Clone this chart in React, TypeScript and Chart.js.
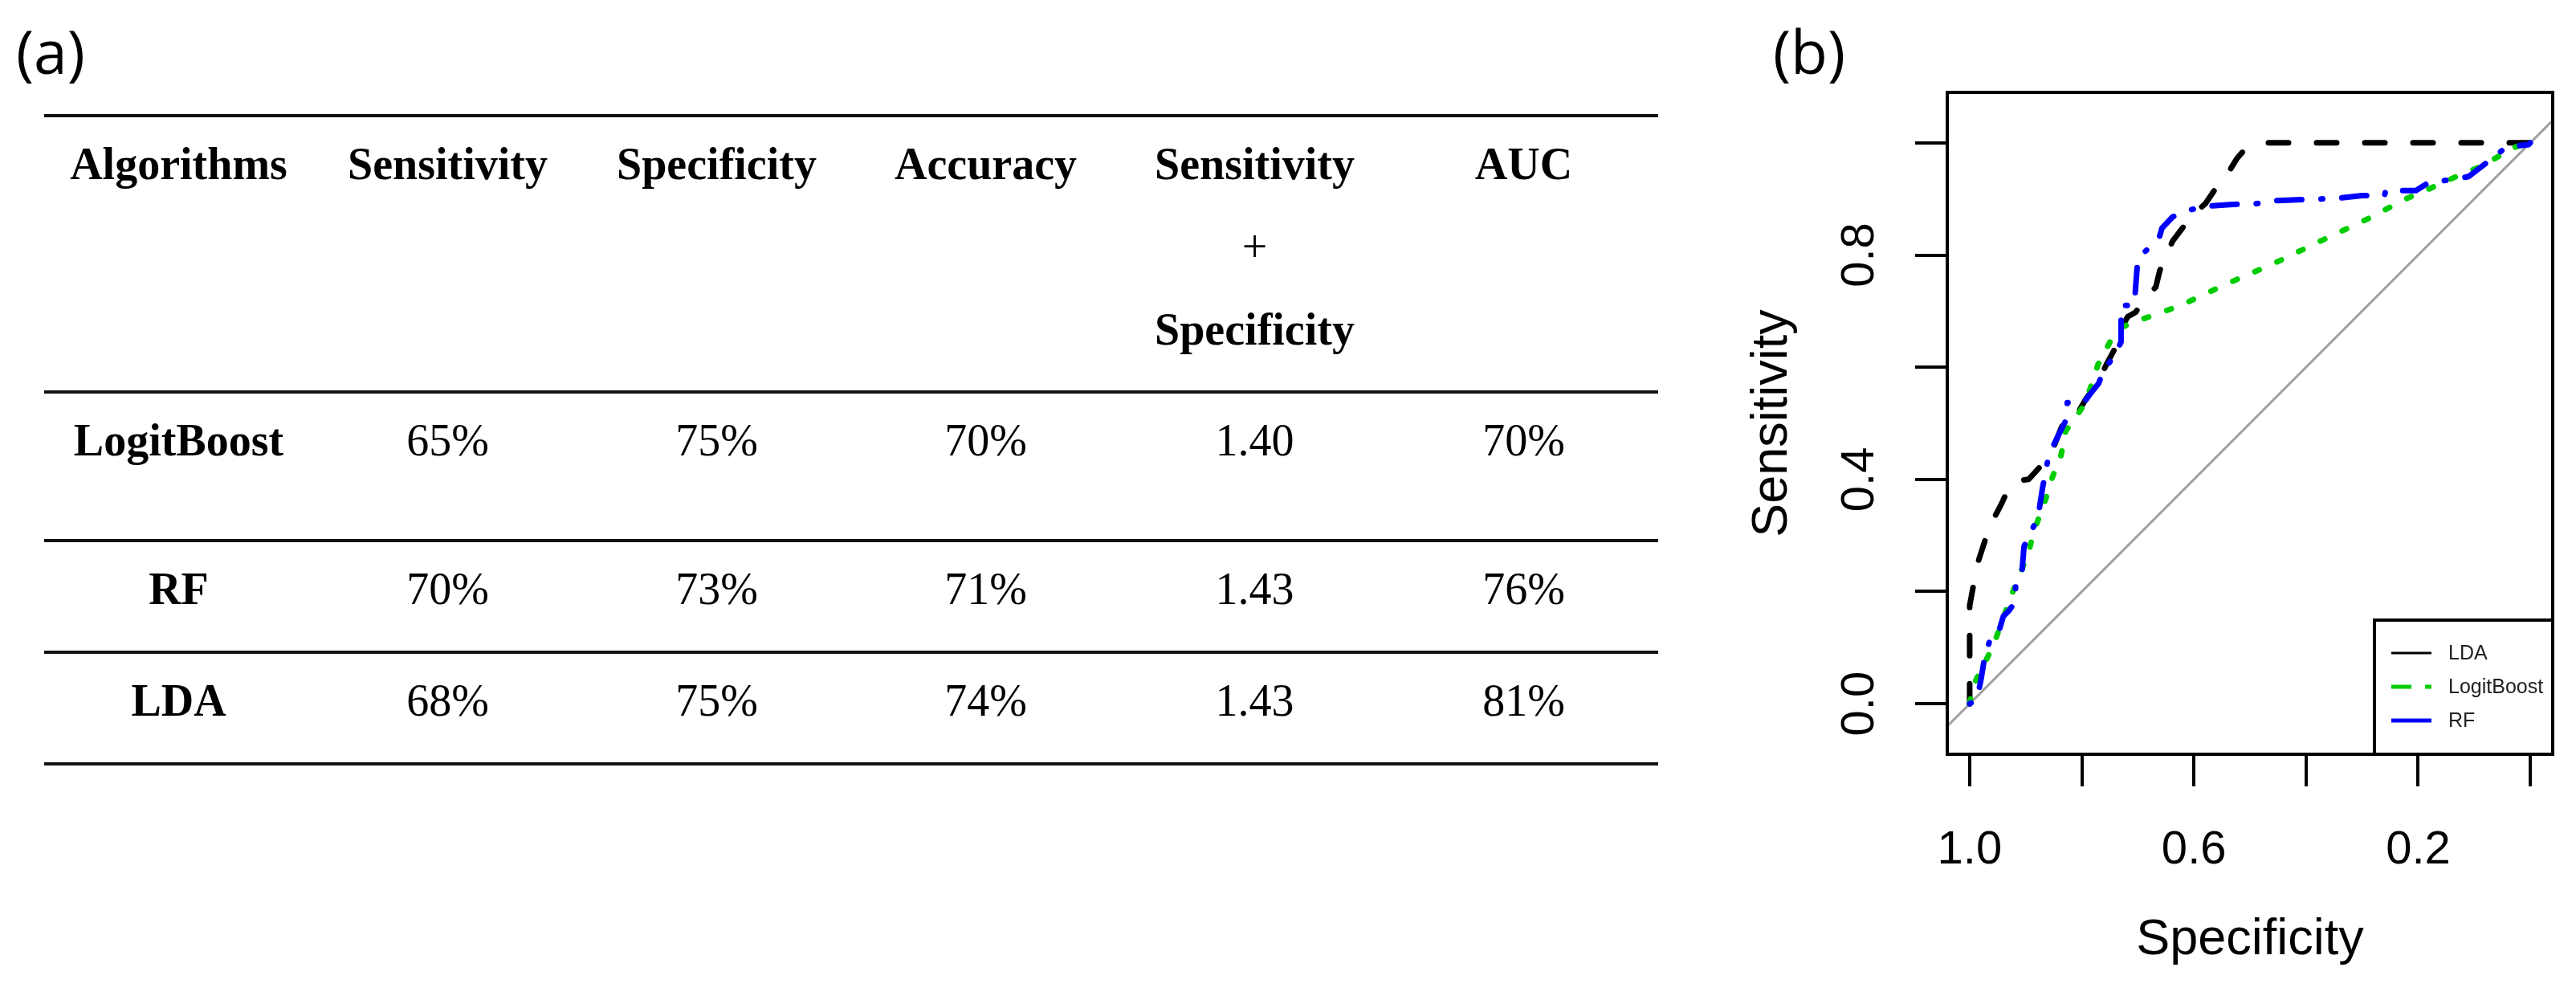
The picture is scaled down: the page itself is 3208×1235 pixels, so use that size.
import React, { useEffect, useRef } from "react";
import { Chart, registerables } from "chart.js";

Chart.register(...registerables);

// ---------- Table (a) data ----------
const tableColumns = ["Algorithms", "Sensitivity", "Specificity", "Accuracy", "Sensitivity|+|Specificity", "AUC"];
const algorithms = ["LogitBoost", "RF", "LDA"];
const sensitivityValues = ["65%", "70%", "68%"];
const specificityValues = ["75%", "73%", "75%"];
const accuracyValues = ["70%", "71%", "74%"];
const sumValues = ["1.40", "1.43", "1.43"];
const aucValues = ["70%", "76%", "81%"];

// ---------- ROC chart (b) data ----------
const xTickValues = [1.0, 0.8, 0.6, 0.4, 0.2, 0.0];
const xTickLabels = ["1.0", "", "0.6", "", "0.2", ""];
const yTickValues = [0.0, 0.2, 0.4, 0.6, 0.8, 1.0];
const yTickLabels = ["0.0", "", "0.4", "", "0.8", ""];

const seriesNames = ["LDA", "LogitBoost", "RF"];

const ldaSpecificity = [1.0, 1.0, 0.993, 0.984, 0.973, 0.958, 0.943, 0.928, 0.91, 0.895, 0.873, 0.852, 0.837, 0.822, 0.805, 0.793, 0.77, 0.756, 0.741, 0.734, 0.718, 0.704, 0.69, 0.668, 0.661, 0.638, 0.616, 0.602, 0.58, 0.557, 0.543, 0.524, 0.514, 0.499, 0.477, 0.0];
const ldaSensitivity = [0.0, 0.175, 0.213, 0.256, 0.29, 0.328, 0.357, 0.39, 0.398, 0.4, 0.424, 0.453, 0.491, 0.522, 0.522, 0.543, 0.576, 0.605, 0.633, 0.662, 0.69, 0.698, 0.719, 0.743, 0.772, 0.825, 0.854, 0.872, 0.891, 0.925, 0.94, 0.971, 0.983, 0.99, 1.0, 1.0];

const logitSpecificity = [1.0, 0.995, 0.958, 0.925, 0.91, 0.895, 0.885, 0.867, 0.852, 0.837, 0.829, 0.811, 0.796, 0.786, 0.771, 0.756, 0.741, 0.727, 0.705, 0.624, 0.543, 0.455, 0.374, 0.293, 0.22, 0.176, 0.132, 0.088, 0.044, 0.036, 0.0];
const logitSensitivity = [0.0, 0.03, 0.103, 0.195, 0.232, 0.27, 0.309, 0.357, 0.405, 0.443, 0.486, 0.51, 0.533, 0.559, 0.605, 0.633, 0.662, 0.672, 0.681, 0.71, 0.748, 0.786, 0.825, 0.863, 0.901, 0.92, 0.94, 0.958, 0.983, 0.99, 1.0];

const rfSpecificity = [1.0, 0.987, 0.98, 0.973, 0.965, 0.96, 0.947, 0.94, 0.93, 0.92, 0.918, 0.907, 0.903, 0.892, 0.885, 0.878, 0.87, 0.859, 0.845, 0.826, 0.826, 0.796, 0.786, 0.77, 0.763, 0.756, 0.737, 0.73, 0.73, 0.708, 0.705, 0.701, 0.697, 0.682, 0.661, 0.657, 0.638, 0.609, 0.58, 0.536, 0.484, 0.455, 0.345, 0.3, 0.26, 0.258, 0.204, 0.18, 0.132, 0.11, 0.08, 0.066, 0.044, 0.003, 0.0];
const rfSensitivity = [0.0, 0.008, 0.042, 0.085, 0.11, 0.125, 0.132, 0.156, 0.166, 0.18, 0.209, 0.232, 0.281, 0.304, 0.318, 0.333, 0.385, 0.443, 0.472, 0.51, 0.537, 0.537, 0.551, 0.571, 0.59, 0.6, 0.63, 0.645, 0.71, 0.71, 0.729, 0.782, 0.797, 0.811, 0.834, 0.848, 0.868, 0.88, 0.887, 0.89, 0.892, 0.897, 0.901, 0.906, 0.906, 0.915, 0.915, 0.93, 0.935, 0.94, 0.963, 0.973, 0.992, 0.997, 1.0];

const diagonalSpecificity = [1.1, -0.1];
const diagonalSensitivity = [-0.1, 1.1];

// ---------- styles ----------
const seriesColors = ["#000000", "#00CD00", "#0000FF"];
const seriesDashes = [[25, 35], [6, 24], [2, 24, 31, 24]];
const legendDashes = [[], [25, 17], []];
const legendWidths = [3, 5, 5];
const sansFamily = "'Liberation Sans', Arial, Helvetica, sans-serif";
const serifFamily = "'Liberation Serif', 'Times New Roman', serif";
const panelFamily = "'Open Sans', 'Noto Sans', sans-serif";

const toPoints = (xs: number[], ys: number[]) => xs.map((x, i) => ({ x, y: ys[i] }));
const labelFor = (values: number[], labels: string[], v: number) => {
  const i = values.findIndex((t) => Math.abs(t - v) < 1e-9);
  return i >= 0 ? labels[i] : "";
};

const framePlugin = {
  id: "rFrame",
  afterDatasetsDraw(chart: any) {
    const { ctx, chartArea } = chart;
    ctx.save();
    ctx.strokeStyle = "#000";
    ctx.lineWidth = 4;
    ctx.strokeRect(chartArea.left, chartArea.top, chartArea.right - chartArea.left, chartArea.bottom - chartArea.top);

    // legend box in bottom-right corner
    const w = 222;
    const h = 167;
    const left = chartArea.right - w;
    const top = chartArea.bottom - h;
    ctx.fillStyle = "#fff";
    ctx.fillRect(left, top, w, h);
    ctx.strokeRect(left, top, w, h);
    const rows = [41, 83, 125];
    ctx.font = `25px ${sansFamily}`;
    ctx.textBaseline = "middle";
    ctx.textAlign = "left";
    seriesNames.forEach((name, i) => {
      const y = top + rows[i];
      ctx.beginPath();
      ctx.setLineDash(legendDashes[i]);
      ctx.lineCap = "butt";
      ctx.strokeStyle = seriesColors[i];
      ctx.lineWidth = legendWidths[i];
      ctx.moveTo(left + 21, y);
      ctx.lineTo(left + 71, y);
      ctx.stroke();
      ctx.setLineDash([]);
      ctx.fillStyle = "#222";
      ctx.fillText(name, left + 92, y + 1);
    });
    ctx.restore();
  },
};

function RocChart() {
  const canvasRef = useRef<HTMLCanvasElement>(null);
  useEffect(() => {
    const canvas = canvasRef.current;
    if (!canvas) return;
    const lineBase = {
      showLine: true,
      pointRadius: 0,
      pointHoverRadius: 0,
      fill: false,
      tension: 0,
      borderCapStyle: "round",
      borderJoinStyle: "round",
    };
    const chart = new Chart(canvas, {
      type: "scatter",
      data: {
        datasets: [
          {
            ...lineBase,
            label: "identity",
            data: toPoints(diagonalSpecificity, diagonalSensitivity),
            borderColor: "#A0A0A0",
            borderWidth: 3,
            borderCapStyle: "butt",
            order: 4,
          },
          {
            ...lineBase,
            label: seriesNames[0],
            data: toPoints(ldaSpecificity, ldaSensitivity),
            borderColor: seriesColors[0],
            borderWidth: 7,
            borderDash: seriesDashes[0],
            order: 3,
          },
          {
            ...lineBase,
            label: seriesNames[1],
            data: toPoints(logitSpecificity, logitSensitivity),
            borderColor: seriesColors[1],
            borderWidth: 7,
            borderDash: seriesDashes[1],
            order: 2,
          },
          {
            ...lineBase,
            label: seriesNames[2],
            data: toPoints(rfSpecificity, rfSensitivity),
            borderColor: seriesColors[2],
            borderWidth: 7,
            borderDash: seriesDashes[2],
            order: 1,
          },
        ] as any,
      },
      options: {
        responsive: false,
        animation: false,
        devicePixelRatio: 1,
        events: [],
        layout: { padding: { left: 20, top: 115, right: 29, bottom: 0 } },
        plugins: {
          legend: { display: false },
          tooltip: { enabled: false },
          title: { display: false },
        },
        scales: {
          x: {
            type: "linear",
            position: "bottom",
            reverse: true,
            min: -0.04,
            max: 1.04,
            afterBuildTicks: (s: any) => {
              s.ticks = xTickValues.map((v) => ({ value: v }));
            },
            afterFit: (s: any) => {
              s.height = 296;
            },
            grid: { display: true, drawOnChartArea: false, drawTicks: true, tickLength: 40, lineWidth: 4, color: "#000" },
            border: { display: false },
            ticks: {
              autoSkip: false,
              maxRotation: 0,
              minRotation: 0,
              padding: 45,
              color: "#000",
              font: { family: sansFamily, size: 58 },
              callback: (v: any) => labelFor(xTickValues, xTickLabels, Number(v)),
            },
            title: {
              display: true,
              text: "Specificity",
              color: "#000",
              font: { family: sansFamily, size: 63 },
              padding: { top: 0, bottom: 27 },
            },
          },
          y: {
            type: "linear",
            position: "left",
            min: -0.09,
            max: 1.09,
            afterBuildTicks: (s: any) => {
              s.ticks = yTickValues.map((v) => ({ value: v }));
            },
            afterFit: (s: any) => {
              s.width = 255;
            },
            grid: { display: true, drawOnChartArea: false, drawTicks: true, tickLength: 40, lineWidth: 4, color: "#000" },
            border: { display: false },
            ticks: {
              autoSkip: false,
              minRotation: 90,
              maxRotation: 90,
              crossAlign: "center",
              padding: 28,
              color: "#000",
              font: { family: sansFamily, size: 58 },
              callback: (v: any) => labelFor(yTickValues, yTickLabels, Number(v)),
            },
            title: {
              display: true,
              text: "Sensitivity",
              color: "#000",
              font: { family: sansFamily, size: 63 },
              padding: { top: 0, bottom: 0 },
            },
          },
        },
      } as any,
      plugins: [framePlugin],
    });
    return () => chart.destroy();
  }, []);
  return (
    <canvas
      ref={canvasRef}
      width={1058}
      height={1235}
      style={{ position: "absolute", left: 2150, top: 0, width: 1058, height: 1235 }}
    />
  );
}

const tableLeft = 55;
const colWidth = 335;
const ruleYs = [144, 488, 673, 812, 951];

function Cell({ x, y, bold, children }: { x: number; y: number; bold?: boolean; children: React.ReactNode }) {
  return (
    <div
      style={{
        position: "absolute",
        left: x,
        top: y,
        width: colWidth,
        textAlign: "center",
        fontFamily: serifFamily,
        fontSize: 56,
        lineHeight: "103px",
        fontWeight: bold ? 700 : 400,
        color: "#000",
        whiteSpace: "nowrap",
      }}
    >
      {children}
    </div>
  );
}

export default function App() {
  const rows = algorithms.map((name, i) => [name, sensitivityValues[i], specificityValues[i], accuracyValues[i], sumValues[i], aucValues[i]]);
  const panelStyle = { position: "absolute" as const, top: 26, fontFamily: panelFamily, fontSize: 75, lineHeight: "75px", color: "#000" };
  return (
    <div style={{ position: "absolute", left: 0, top: 0, width: 3208, height: 1235, background: "#fff", overflow: "hidden" }}>
      <div style={{ ...panelStyle, left: 20 }}>(a)</div>
      <div style={{ ...panelStyle, left: 2208 }}>(b)</div>

      {ruleYs.map((y, i) => (
        <div key={"rule" + i} style={{ position: "absolute", left: tableLeft, top: y - 2, width: colWidth * 6, height: 4, background: "#111" }} />
      ))}

      {tableColumns.map((c, j) => (
        <Cell key={"h" + j} x={tableLeft + j * colWidth} y={ruleYs[0] + 9} bold>
          {c.split("|").map((part, k, arr) => (
            <React.Fragment key={k}>
              <span style={{ fontWeight: part === "+" ? 400 : 700 }}>{part}</span>
              {k < arr.length - 1 ? <br /> : null}
            </React.Fragment>
          ))}
        </Cell>
      ))}

      {rows.map((r, i) =>
        r.map((v, j) => (
          <Cell key={"r" + i + "c" + j} x={tableLeft + j * colWidth} y={ruleYs[i + 1] + 9} bold={j === 0}>
            {v}
          </Cell>
        ))
      )}

      <RocChart />
    </div>
  );
}
